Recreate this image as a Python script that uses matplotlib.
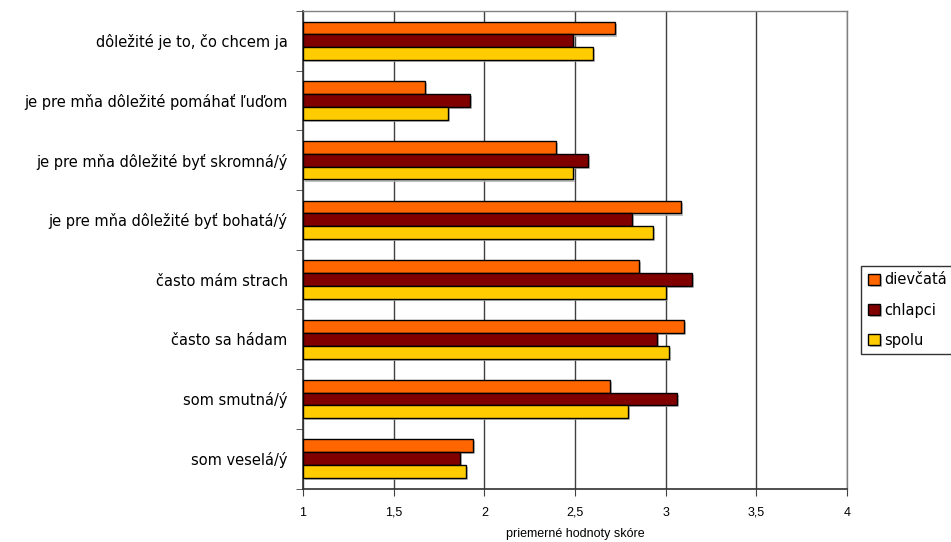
import numpy as np
import matplotlib
matplotlib.use("Agg")
import matplotlib.pyplot as plt
import matplotlib.patheffects as pe

# data, top to bottom as drawn
categories = [
    "dôležité je to, čo chcem ja",
    "je pre mňa dôležité pomáhať ľuďom",
    "je pre mňa dôležité byť skromná/ý",
    "je pre mňa dôležité byť bohatá/ý",
    "často mám strach",
    "často sa hádam",
    "som smutná/ý",
    "som veselá/ý",
]
dievcata = [2.72, 1.675, 2.395, 3.087, 2.853, 3.103, 2.695, 1.938]
chlapci = [2.491, 1.919, 2.574, 2.813, 3.144, 2.953, 3.061, 1.868]
spolu = [2.601, 1.802, 2.491, 2.932, 3.002, 3.02, 2.793, 1.901]

series = [("dievčatá", dievcata, "#FF6600"),
          ("chlapci", chlapci, "#800000"),
          ("spolu", spolu, "#FFCC00")]

fig = plt.figure(figsize=(9.51, 5.42), dpi=100)
ax = fig.add_axes([0.3186, 0.0987, 0.572, 0.881])

n = len(categories)
y = np.arange(n)
h = 0.215
shadow = [pe.SimplePatchShadow(offset=(1.5, -1.5), shadow_rgbFace="#b0b0b0", alpha=0.8), pe.Normal()]
for i, (name, vals, col) in enumerate(series):
    # first series sits on top of each group
    bars = ax.barh(y + (i - 1) * h, np.array(vals) - 1, left=1, height=h,
                   color=col, edgecolor="black", linewidth=1.0, label=name, zorder=3)
    for b in bars:
        b.set_path_effects(shadow)

ax.set_xlim(1, 4)
ax.set_ylim(n - 0.5, -0.5)
ax.set_xticks([1, 1.5, 2, 2.5, 3, 3.5, 4])
ax.set_xticklabels(["1", "1,5", "2", "2,5", "3", "3,5", "4"],
                   fontfamily="Liberation Sans", fontsize=9)
ax.xaxis.grid(True, color="#404040", linewidth=1.0, zorder=0)
ax.set_axisbelow(True)

ax.set_yticks(y)
ax.set_yticklabels(categories, fontsize=10.5, fontfamily="DejaVu Sans")
ax.set_yticks(np.arange(-0.5, n, 1), minor=True)
ax.tick_params(axis="y", which="major", length=0, pad=11)
ax.tick_params(axis="y", which="minor", length=5, direction="out", color="#404040")
ax.tick_params(axis="x", length=5, direction="out", color="#404040", pad=8)

ax.set_xlabel("priemerné hodnoty skóre", fontfamily="Liberation Sans", fontsize=9, labelpad=7)

for s in ["left", "bottom"]:
    ax.spines[s].set_color("#303030")
    ax.spines[s].set_linewidth(1.2)
for s in ["top", "right"]:
    ax.spines[s].set_color("#808080")
    ax.spines[s].set_linewidth(1.0)

leg = fig.legend(loc="center left", bbox_to_anchor=(0.898, 0.428),
                 frameon=True, fancybox=False, edgecolor="black",
                 prop={"family": "DejaVu Sans", "size": 10.5},
                 handlelength=0.8, handleheight=0.8, handletextpad=0.3,
                 labelspacing=1.05, borderpad=0.45)
leg.get_frame().set_linewidth(1.0)

fig.savefig("out.png", dpi=100)
